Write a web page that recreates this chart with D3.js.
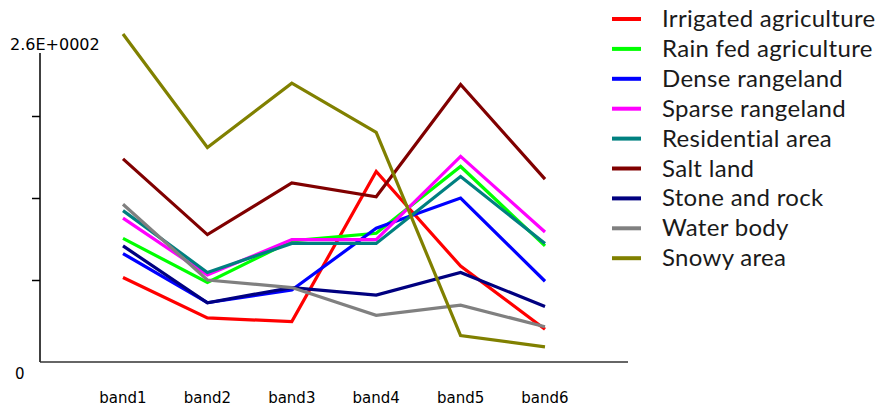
<!DOCTYPE html>
<html>
<head>
<meta charset="utf-8">
<script src="https://cdn.jsdelivr.net/npm/d3@7"></script>
<style>
  body { margin: 0; background: #fff; }
</style>
</head>
<body>
<div id="chart"></div>
<script>
const bands = ["band1", "band2", "band3", "band4", "band5", "band6"];
const classNames = ["Irrigated agriculture", "Rain fed agriculture", "Dense rangeland", "Sparse rangeland",
    "Residential area", "Salt land", "Stone and rock", "Water body", "Snowy area"];
const classColors = ["#ff0000", "#00ff00", "#0000ff", "#ff00ff", "#008080", "#800000", "#000080", "#808080", "#808000"];

const irrigated = [67, 35, 32, 151, 76, 26];
const rainFed = [98, 63, 96, 102, 155, 92];
const dense = [86, 47, 57, 106, 130, 64];
const sparse = [114, 69, 97, 97, 163, 103];
const residential = [120, 71, 94, 94, 147, 94];
const saltLand = [161, 101, 142, 131, 220, 145];
const stone = [92, 47, 59, 53, 71, 44];
const water = [125, 65, 59, 37, 45, 28];
const snowy = [260, 170, 221, 182, 21, 12];

const yTickLabels = ["0", "2.6E+0002"];

const series = [irrigated, rainFed, dense, sparse, residential, saltLand, stone, water, snowy]
    .map((values, i) => ({ name: classNames[i], color: classColors[i], values }));

const width = 882, height = 407;

const svg = d3.select("#chart").append("svg")
    .attr("width", width)
    .attr("height", height);

const x = d3.scalePoint().domain(bands).range([123, 545]);
const y = d3.scaleLinear().domain([0, 260]).range([362, 34]);

// axes
const yAxis = svg.append("g")
    .attr("transform", "translate(40,0)")
    .call(d3.axisLeft(y).tickValues([65, 130, 195]).tickSize(8).tickFormat(""));
yAxis.select(".domain").remove();
yAxis.selectAll("line").attr("stroke", "#000").attr("stroke-width", 1.5);

svg.append("line")
    .attr("x1", 40).attr("x2", 40)
    .attr("y1", y(245)).attr("y2", y(0))
    .attr("stroke", "#000").attr("stroke-width", 1.5);
svg.append("line")
    .attr("x1", 40).attr("x2", 628)
    .attr("y1", y(0)).attr("y2", y(0))
    .attr("stroke", "#333").attr("stroke-width", 1.5);

svg.append("text")
    .attr("x", 10).attr("y", y(260) + 16)
    .attr("font-family", "DejaVu Sans")
    .attr("font-size", "16px")
    .attr("fill", "#000")
    .text(yTickLabels[1]);
svg.append("text")
    .attr("x", 15).attr("y", y(0) + 17)
    .attr("font-family", "DejaVu Sans")
    .attr("font-size", "15px")
    .attr("fill", "#000")
    .text(yTickLabels[0]);

svg.selectAll(".band-label")
    .data(bands)
    .enter()
    .append("text")
    .attr("class", "band-label")
    .attr("x", d => x(d))
    .attr("y", 403)
    .attr("text-anchor", "middle")
    .attr("font-family", "DejaVu Sans")
    .attr("font-size", "15px")
    .attr("fill", "#000")
    .text(d => d);

// lines
const line = d3.line()
    .x((d, i) => x(bands[i]))
    .y(d => y(d));

svg.selectAll(".series")
    .data(series)
    .enter()
    .append("path")
    .attr("class", "series")
    .attr("d", d => line(d.values))
    .attr("fill", "none")
    .attr("stroke", d => d.color)
    .attr("stroke-width", 3.2)
    .attr("stroke-linejoin", "miter");

// legend
const legend = svg.selectAll(".legend")
    .data(series)
    .enter()
    .append("g")
    .attr("class", "legend")
    .attr("transform", (d, i) => `translate(612,${19 + i * 29.9})`);

legend.append("line")
    .attr("x1", 0).attr("x2", 29)
    .attr("stroke", d => d.color)
    .attr("stroke-width", 4);

legend.append("text")
    .attr("x", 50)
    .attr("y", 8)
    .attr("font-family", "Lato")
    .attr("font-size", "24px")
    .attr("letter-spacing", "0.3px")
    .attr("fill", "#1a1a1a")
    .text(d => d.name);
</script>
</body>
</html>
